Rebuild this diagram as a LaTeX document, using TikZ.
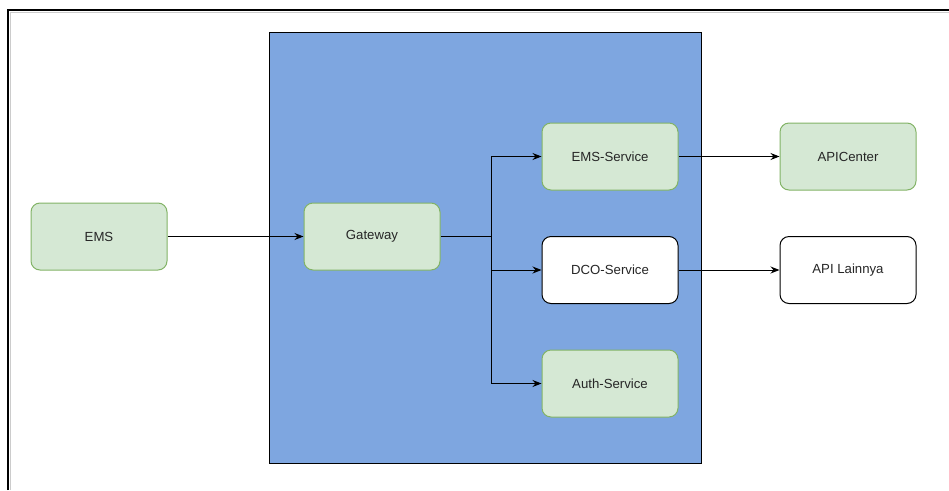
\documentclass[tikz,border=0pt]{standalone}
\usepackage{fontspec}
\setmainfont{Liberation Sans}
\usetikzlibrary{arrows.meta}
\definecolor{grfill}{HTML}{D5E8D4}
\definecolor{grline}{HTML}{82B366}
\definecolor{bluebg}{HTML}{7EA6E0}
\begin{document}
\begin{tikzpicture}[x=1pt,y=-1pt,
  box/.style={rounded corners=9pt, minimum width=136pt, minimum height=67pt, line width=1pt, font=\fontsize{13.2}{15}\selectfont, text=black!85, inner sep=0pt},
  greenbox/.style={box, fill=grfill, draw=grline},
  whitebox/.style={box, fill=white, draw=black},
  conn/.style={line width=1pt, -{Stealth[length=9pt,width=7pt]}}]
\useasboundingbox (0,0) rectangle (949,490);
% outer frame
\draw[black!20, line width=1pt] (10,490) -- (10,12) -- (949,12);
\draw[black, line width=1.3pt] (8,490) -- (8,10) -- (949,10);
% container
\node[draw=black, fill=bluebg, line width=1pt, minimum width=432pt, minimum height=431pt, inner sep=0pt] (cont) at (485,247.5) {};
% nodes
\node[greenbox] (ems) at (99,236.5) {EMS};
\node[greenbox] (gw) at (372,236.5) {Gateway};
\node[greenbox] (emss) at (610,156.5) {EMS-Service};
\node[whitebox] (dco) at (610,270) {DCO-Service};
\node[greenbox] (auth) at (610,383.5) {Auth-Service};
\node[greenbox] (apic) at (848,156.5) {APICenter};
\node[whitebox] (apil) at (848,270) {API Lainnya};
\coordinate (br) at (491,236.5);
% connectors
\draw[conn] (ems) -- (gw);
\draw[line width=1pt] (gw) -- (br);
\draw[conn] (br) |- (emss);
\draw[conn] (br) |- (dco);
\draw[conn] (br) |- (auth);
\draw[conn] (emss) -- (apic);
\draw[conn] (dco) -- (apil);
\end{tikzpicture}
\end{document}
